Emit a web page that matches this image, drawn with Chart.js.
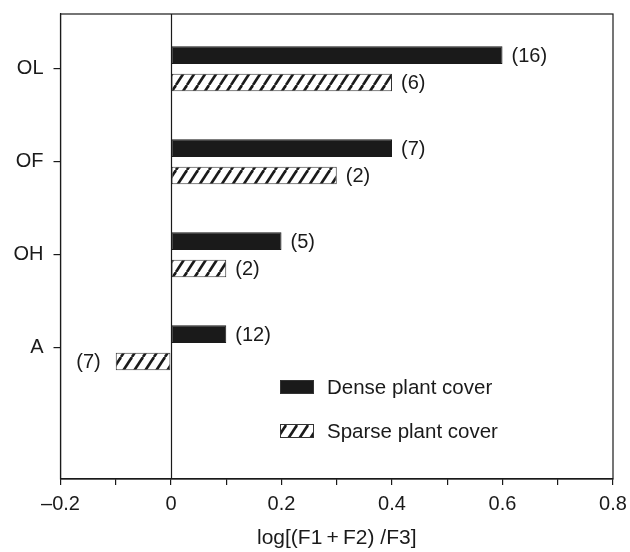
<!DOCTYPE html>
<html>
<head>
<meta charset="utf-8">
<script src="https://cdn.jsdelivr.net/npm/chart.js@4.4.1/dist/chart.umd.min.js"></script>
<style>
  html, body { margin: 0; padding: 0; background: #fff; }
  #wrap { width: 630px; height: 552px; position: relative; }
</style>
</head>
<body>
<div id="wrap"><canvas id="chart"></canvas></div>
<script>
// categories, top to bottom
const categories = ['OL', 'OF', 'OH', 'A'];
const denseValues = [0.6, 0.4, 0.2, 0.1];
const sparseValues = [0.4, 0.3, 0.1, -0.1];
const denseCounts = ['(16)', '(7)', '(5)', '(12)'];
const sparseCounts = ['(6)', '(2)', '(2)', '(7)'];
const xTickLabels = ['\u20130.2', '0', '0.2', '0.4', '0.6', '0.8'];
const seriesNames = ['Dense plant cover', 'Sparse plant cover'];

const FONT = '"Liberation Sans", Arial, Helvetica, sans-serif';
const INK = '#1a1a1a';

// diagonal hatch fill for the sparse bars
function makeHatch() {
  const w = 11, h = 17;
  const c = document.createElement('canvas');
  c.width = w; c.height = h;
  const g = c.getContext('2d');
  g.fillStyle = '#fff';
  g.fillRect(0, 0, w, h);
  g.strokeStyle = INK;
  g.lineWidth = 2.6;
  [-w, 0, w].forEach(x0 => {
    g.beginPath();
    g.moveTo(x0, h);
    g.lineTo(x0 + w, 0);
    g.stroke();
  });
  return g.createPattern(c, 'repeat');
}
const hatch = makeHatch();

// y position of each category on the linear index axis
const yPos = i => categories.length - i;

const boxAndZero = {
  id: 'boxAndZero',
  afterDatasetsDraw(chart) {
    const { ctx, chartArea: a, scales } = chart;
    ctx.save();
    ctx.strokeStyle = INK;
    ctx.lineWidth = 1.2;
    ctx.strokeRect(a.left, a.top, a.right - a.left, a.bottom - a.top);
    const x0 = Math.round(scales.x.getPixelForValue(0)) + 0.5;
    ctx.beginPath();
    ctx.moveTo(x0, a.top);
    ctx.lineTo(x0, a.bottom);
    ctx.stroke();
    ctx.restore();
  }
};

const countLabels = {
  id: 'countLabels',
  afterDatasetsDraw(chart) {
    const { ctx } = chart;
    const sets = [denseCounts, sparseCounts];
    ctx.save();
    ctx.font = '20px ' + FONT;
    ctx.fillStyle = INK;
    ctx.textBaseline = 'middle';
    chart.data.datasets.forEach((ds, di) => {
      chart.getDatasetMeta(di).data.forEach((bar, i) => {
        const neg = ds.data[i].x < 0;
        ctx.textAlign = neg ? 'right' : 'left';
        const x = neg ? bar.x - 15 : bar.x + 9;
        ctx.fillText(sets[di][i], x, bar.y + 1);
      });
    });
    ctx.restore();
  }
};

const innerLegend = {
  id: 'innerLegend',
  afterDraw(chart) {
    const { ctx } = chart;
    const fills = [INK, hatch];
    const rows = [387, 431];
    ctx.save();
    ctx.font = '20.5px ' + FONT;
    ctx.textBaseline = 'middle';
    ctx.textAlign = 'left';
    seriesNames.forEach((name, i) => {
      const y = rows[i];
      ctx.fillStyle = fills[i];
      ctx.fillRect(280, y - 7, 34, 14);
      ctx.strokeStyle = '#333';
      ctx.lineWidth = 1;
      ctx.strokeRect(280.5, y - 6.5, 33, 13);
      ctx.fillStyle = INK;
      ctx.fillText(name, 327, y + 1);
    });
    ctx.restore();
  }
};

new Chart(document.getElementById('chart'), {
  type: 'bar',
  data: {
    datasets: [{
      label: seriesNames[0],
      data: denseValues.map((v, i) => ({ x: v, y: yPos(i) })),
      backgroundColor: INK,
      borderColor: INK,
      borderWidth: 1,
      borderSkipped: false
    }, {
      label: seriesNames[1],
      data: sparseValues.map((v, i) => ({ x: v, y: yPos(i) })),
      backgroundColor: hatch,
      borderColor: '#333',
      borderWidth: 1,
      borderSkipped: false
    }]
  },
  options: {
    indexAxis: 'y',
    responsive: true,
    maintainAspectRatio: false,
    animation: false,
    categoryPercentage: 0.59,
    barPercentage: 0.64,
    layout: { padding: { top: 14, right: 17, left: 0, bottom: 0 } },
    plugins: {
      legend: { display: false },
      tooltip: { enabled: false }
    },
    scales: {
      x: {
        type: 'linear',
        min: -0.2,
        max: 0.8,
        ticks: {
          stepSize: 0.1,
          autoSkip: false,
          maxRotation: 0,
          padding: 7,
          color: INK,
          font: { family: FONT, size: 20 },
          callback: v => {
            const k = Math.round(v * 10);
            return k % 2 === 0 ? xTickLabels[(k + 2) / 2] : '';
          }
        },
        grid: { drawOnChartArea: false, tickLength: 6, color: INK, lineWidth: 1.2 },
        border: { display: true, color: INK, width: 1.2 },
        title: {
          display: true,
          text: 'log[(F1\u2009+\u2009F2) /F3]',
          color: INK,
          font: { family: FONT, size: 21 },
          padding: { top: 0, bottom: 1 }
        },
        afterFit: s => { s.height = 73; s.paddingLeft = 0; s.paddingRight = 0; }
      },
      y: {
        type: 'linear',
        offset: false,
        min: -0.41,
        max: 4.59,
        afterBuildTicks: s => { s.ticks = categories.map((c, i) => ({ value: yPos(i) })); },
        ticks: {
          padding: 10,
          color: INK,
          font: { family: FONT, size: 20 },
          callback: v => categories[categories.length - v]
        },
        grid: { offset: false, drawOnChartArea: false, tickLength: 7, color: INK, lineWidth: 1.2 },
        border: { display: true, color: INK, width: 1.2 },
        afterFit: s => { s.width = 60.5; s.paddingTop = 0; s.paddingBottom = 0; }
      }
    }
  },
  plugins: [boxAndZero, countLabels, innerLegend]
});
</script>
</body>
</html>
